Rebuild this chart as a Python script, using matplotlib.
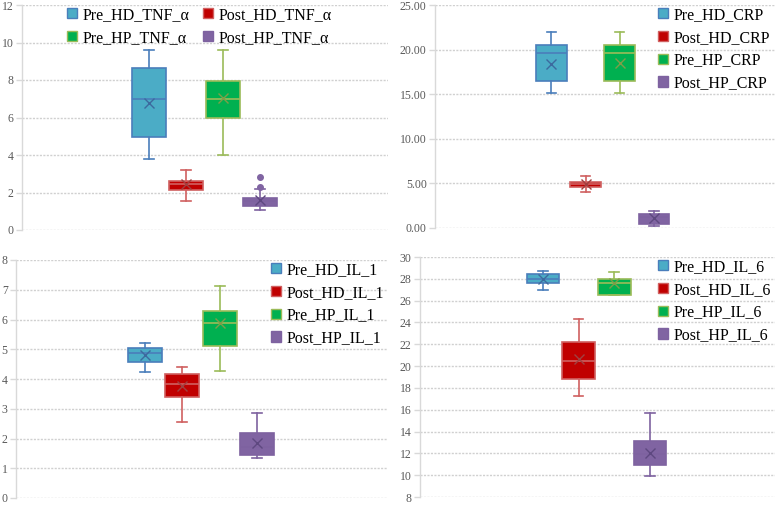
import matplotlib
matplotlib.use("Agg")
import matplotlib.pyplot as plt
from matplotlib.patches import Patch

plt.rcParams['font.family'] = ['Liberation Serif', 'DejaVu Serif']

# ---------------- data ----------------
groups = ["Pre_HD", "Post_HD", "Pre_HP", "Post_HP"]

# TNF_α
tnf_whislo = [3.79, 1.56, 3.98, 1.08]
tnf_q1     = [4.98, 2.13, 5.97, 1.28]
tnf_med    = [6.97, 2.44, 7.00, 1.55]
tnf_q3     = [8.62, 2.61, 7.96, 1.71]
tnf_whishi = [9.60, 3.20, 9.60, 2.19]
tnf_mean   = [6.79, 2.44, 7.04, 1.60]
tnf_fliers = [[], [], [], [2.29, 2.83]]

# CRP
crp_whislo = [15.16, 4.04, 15.16, 0.22]
crp_q1     = [16.50, 4.60, 16.50, 0.41]
crp_med    = [19.57, 4.90, 19.57, 1.20]
crp_q3     = [20.47, 5.16, 20.47, 1.60]
crp_whishi = [22.00, 5.80, 22.00, 1.90]
crp_mean   = [18.34, 4.98, 18.52, 1.16]

# IL_1
il1_whislo = [4.22, 2.54, 4.27, 1.36]
il1_q1     = [4.58, 3.41, 5.10, 1.43]
il1_med    = [4.89, 3.83, 5.89, 1.71]
il1_q3     = [5.04, 4.16, 6.29, 2.17]
il1_whishi = [5.22, 4.41, 7.13, 2.87]
il1_mean   = [4.80, 3.78, 5.89, 1.86]

# IL_6
il6_whislo = [27.00, 17.25, 26.55, 9.96]
il6_q1     = [27.58, 18.79, 26.55, 10.93]
il6_med    = [27.98, 20.45, 27.60, 11.96]
il6_q3     = [28.43, 22.23, 27.98, 13.10]
il6_whishi = [28.73, 24.29, 28.58, 15.68]
il6_mean   = [27.98, 20.63, 27.58, 12.00]

fill_colors = ["#4BACC6", "#C00000", "#00B050", "#8064A2"]
edge_colors = ["#4A7EBB", "#D06060", "#9BBB59", "#7E62A0"]
mean_colors = ["#3C6A9E", "#A04040", "#7E9E48", "#5E4880"]

fig = plt.figure(figsize=(7.75, 5.05), dpi=100)

def panel(rect, stats, suffix, ylim, yticks, fmt, xlim, width, ncol, leg_anchor, leg_loc):
    ax = fig.add_axes(rect)
    wl, q1, med, q3, wh, mn, fl = stats
    for i in range(4):
        st = [dict(whislo=wl[i], q1=q1[i], med=med[i], q3=q3[i], whishi=wh[i],
                   mean=mn[i], fliers=fl[i], label=groups[i])]
        ax.bxp(st, positions=[i], widths=width, capwidths=0.27, patch_artist=True,
               showmeans=True, showfliers=True,
               boxprops=dict(facecolor=fill_colors[i], edgecolor=edge_colors[i], linewidth=1.2),
               medianprops=dict(color=edge_colors[i], linewidth=1.2),
               whiskerprops=dict(color=edge_colors[i], linewidth=1.2),
               capprops=dict(color=edge_colors[i], linewidth=1.2),
               meanprops=dict(marker='x', markeredgecolor=mean_colors[i], markersize=7,
                              markeredgewidth=1.0),
               flierprops=dict(marker='o', markerfacecolor=fill_colors[i],
                               markeredgecolor=fill_colors[i], markersize=4))
    ax.set_xlim(*xlim)
    ax.set_ylim(*ylim)
    ax.set_yticks(yticks)
    ax.set_yticklabels([fmt.format(v) for v in yticks])
    ax.set_xticks([])
    ax.yaxis.grid(True, linestyle=(0, (1.5, 1.0)), color="#D0D0D0", linewidth=1.0)
    ax.set_axisbelow(True)
    for s in ["top", "right", "bottom"]:
        ax.spines[s].set_visible(False)
    ax.spines["left"].set_color("#D9D9D9")
    ax.spines["left"].set_linewidth(1.0)
    ax.tick_params(axis='y', colors="#D9D9D9", labelcolor="#595959", labelsize=8.5,
                   length=4, width=1.0, pad=2)
    handles = [Patch(facecolor=fill_colors[i], edgecolor=edge_colors[i],
                     label=f"{groups[i]}_{suffix}") for i in range(4)]
    # two-column legend is filled column by column: rows read Pre_HD/Post_HD, Pre_HP/Post_HP
    order = [0, 2, 1, 3] if ncol == 2 else [0, 1, 2, 3]
    ax.legend(handles=[handles[k] for k in order], ncol=ncol, loc=leg_loc,
              bbox_to_anchor=leg_anchor, bbox_transform=fig.transFigure,
              frameon=False, fontsize=11.5, handlelength=0.6, handleheight=0.6,
              handletextpad=0.35, columnspacing=0.9, labelspacing=0.42,
              borderpad=0, borderaxespad=0)
    return ax

W, H = 775.0, 505.0
def rect(x0, x1, ytop, ybot):
    return [x0 / W, 1 - ybot / H, (x1 - x0) / W, (ybot - ytop) / H]

panel(rect(22, 388, 5, 230),
      (tnf_whislo, tnf_q1, tnf_med, tnf_q3, tnf_whishi, tnf_mean, tnf_fliers),
      "TNF_α", (0, 12), [0, 2, 4, 6, 8, 10, 12], "{:.0f}",
      (-3.43, 6.46), 0.92, 2, (67 / W, 1 - 7 / H), "upper left")

panel(rect(435, 775, 5, 228),
      (crp_whislo, crp_q1, crp_med, crp_q3, crp_whishi, crp_mean, [[]] * 4),
      "CRP", (0, 25), [0, 5, 10, 15, 20, 25], "{:.2f}",
      (-3.40, 6.54), 0.90, 1, (658 / W, 1 - 7 / H), "upper left")

panel(rect(16, 388, 260, 498),
      (il1_whislo, il1_q1, il1_med, il1_q3, il1_whishi, il1_mean, [[]] * 4),
      "IL_1", (0, 8), [0, 1, 2, 3, 4, 5, 6, 7, 8], "{:.0f}",
      (-3.46, 6.51), 0.91, 1, (271 / W, 1 - 262 / H), "upper left")

panel(rect(420, 775, 257, 497),
      (il6_whislo, il6_q1, il6_med, il6_q3, il6_whishi, il6_mean, [[]] * 4),
      "IL_6", (8, 30), list(range(8, 31, 2)), "{:.0f}",
      (-3.44, 6.50), 0.91, 1, (658 / W, 1 - 259 / H), "upper left")

fig.savefig("out.png", dpi=100)
